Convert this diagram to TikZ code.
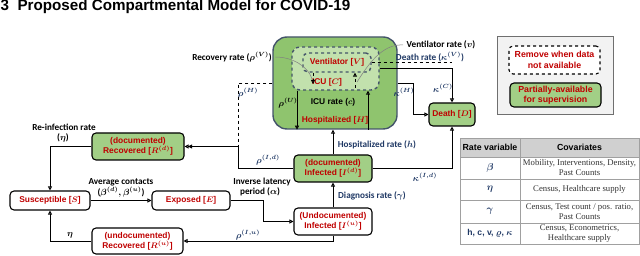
\documentclass[tikz,border=0pt]{standalone}
\usepackage{amsmath}
\usepackage{fontspec}
\setmainfont{Carlito}
\newfontfamily\arialfont{Liberation Sans}
\newfontfamily\timesfont{Liberation Serif}
\usetikzlibrary{arrows.meta,positioning,calc}
\definecolor{redc}{HTML}{C00000}
\definecolor{navyc}{HTML}{1F3864}
\definecolor{greenbox}{HTML}{A2CF86}
\definecolor{greenhosp}{HTML}{8FC46E}
\definecolor{greenicu}{HTML}{C2E1AD}
\definecolor{hospedge}{HTML}{44546A}
\definecolor{legendfill}{HTML}{F2F2F2}
\definecolor{legendedge}{HTML}{6F6F6F}
\definecolor{headgray}{HTML}{D0D0D0}
\definecolor{rulegray}{HTML}{A0A0A0}

\begin{document}
\begin{tikzpicture}[x=1pt,y=-1pt,
  every node/.style={font=\bfseries\boldmath\fontsize{9.2}{10}\selectfont},
  box/.style={draw,line width=1.1pt,rounded corners=4pt,align=center,inner sep=1pt,text=redc,
    font=\arialfont\bfseries\boldmath\fontsize{8.4}{10}\selectfont},
  docbox/.style={box,fill=greenbox},
  ratelbl/.style={text=navyc},
  covtext/.style={align=center,text=black!80,inner sep=0pt,font=\timesfont\fontsize{8.7}{10}\selectfont},
  flow/.style={line width=0.9pt,-{Triangle[open,length=4pt,width=4pt]}},
  pointer/.style={gray,line width=0.5pt}]
\useasboundingbox (0,0) rectangle (640,256);
\node[anchor=base west,inner sep=0pt,font=\arialfont\bfseries\fontsize{15.2}{18}\selectfont] (title) at (0.5,11) {3\hspace{0.55em}Proposed Compartmental Model for COVID-19};

\node[draw=hospedge,fill=greenhosp,line width=1.4pt,rounded corners=14pt,minimum width=124,minimum height=92] (hosp) at (335,83) {};
\node[draw=hospedge,fill=greenicu,line width=1.4pt,dashed,rounded corners=8pt,minimum width=87,minimum height=43] (icu) at (335.5,68.5) {};
\node[box,draw=hospedge,line width=1.4pt,dashed,rounded corners=5pt,fill=greenicu,minimum width=68,minimum height=19] (vent) at (337,62.5) {Ventilator [$V$]};
\node[text=redc,font=\arialfont\bfseries\boldmath\fontsize{8.4}{10}\selectfont] (icutxt) at (327,82) {ICU [$C$]};
\node[font=\arialfont\bfseries\boldmath\fontsize{8.4}{10}\selectfont] (icurate) at (333,102) {ICU rate ($c$)};
\node[text=redc,font=\arialfont\bfseries\boldmath\fontsize{8.4}{10}\selectfont] (hosptxt) at (335,120) {Hospitalized [$H$]};

\node[box,fill=white,minimum width=80,minimum height=19] (sus) at (50,200.5) {Susceptible [$S$]};
\node[box,fill=white,minimum width=78,minimum height=19] (exp) at (191,200.5) {Exposed [$E$]};
\node[docbox,minimum width=92,minimum height=27] (rdoc) at (138,146.5) {(documented)\\Recovered [$R^{(d)}$]};
\node[box,fill=white,minimum width=91,minimum height=26] (rund) at (137.5,241) {(undocumented)\\Recovered [$R^{(u)}$]};
\node[box,fill=white,minimum width=78,minimum height=27] (iund) at (333,221.5) {(Undocumented)\\Infected [$I^{(u)}$]};
\node[docbox,minimum width=78,minimum height=27] (idoc) at (333,168.5) {(documented)\\Infected [$I^{(d)}$]};
\node[docbox,minimum width=46,minimum height=23] (death) at (452,114.5) {Death [$D$]};

\node (reinf) at (64,127) {Re-infection rate};
\node (reinfeta) at (63,138) {($\eta$)};
\node (etau) at (70,235) {$\eta$};
\node (avgc) at (121,182) {Average contacts};
\node (avgb) at (121,192) {($\beta^{(d)}, \beta^{(u)}$)};
\node (invlat) at (262,182) {Inverse latency};
\node (invper) at (260,192) {period ($\alpha$)};
\node[ratelbl] (diag) at (372,196) {Diagnosis rate ($\gamma$)};
\node[ratelbl] (rhoiu) at (248,235) {$\rho^{(I,u)}$};
\node[ratelbl] (rhoid) at (268,160) {$\rho^{(I,d)}$};
\node[ratelbl] (rhoh) at (248,93) {$\rho^{(H)}$};
\node[ratelbl] (hrate) at (377,145) {Hospitalized rate ($h$)};
\node[ratelbl] (kid) at (425,177) {$\kappa^{(I,d)}$};
\node[ratelbl] (kh) at (404,92) {$\kappa^{(H)}$};
\node[ratelbl] (kc) at (443,88) {$\kappa^{(C)}$};
\node[ratelbl] (drate) at (430,57) {Death rate ($\kappa^{(V)}$)};
\node (rhou) at (288,103) {$\rho^{(U)}$};
\node (recov) at (232,57) {Recovery rate ($\rho^{(V)}$)};
\node (ventrate) at (441,45) {Ventilator rate ($v$)};

\coordinate (lat) at (263,200.5);
\coordinate (join) at (238,146.5);
\coordinate (vdown) at (313,84);
\coordinate (vupstart) at (355,88);
\coordinate (rvtip) at (312,79);
\coordinate (vutip) at (357,82);

\draw[flow] (sus) -- (exp);
\draw[flow] (exp.east) -- (lat) |- (iund.west);
\draw[flow] (iund.north) -- (idoc.south);
\draw[flow] (iund.south) |- (rund.east);
\draw[flow] (rund.west) -| (sus.south);
\draw[flow] (rdoc.west) -| (sus.north);
\draw[flow] (idoc.west) -| (join) -- (rdoc.east);
\draw[flow,dashed,shorten >=3.5pt] (hosp.west) -| (join) -- (rdoc.east);
\draw[flow] (idoc.north) -- (idoc.north |- hosp.south);
\draw[flow] (idoc.east) -| (death.south);
\draw[flow] (hosp.east) -- ++(16,0) |- (death.west);
\draw[flow] (icu.east) -| (death.north);
\draw[line width=0.9pt,dashed] (vent.east) -- (vent.east -| death.north);
\draw[flow] ([xshift=-38.5pt]icu.south) -- ([xshift=-38.5pt]icu.south |- hosp.south);
\draw[flow] ([xshift=32.5pt]icu.south |- hosp.south) -- ([xshift=32.5pt]icu.south);
\draw[flow,dashed] (vent.south -| vdown) -- (vdown);
\draw[flow,dashed] (vupstart) -- (vent.south -| vupstart);
\draw[pointer] (recov.east) .. controls (292,57) and (308,66) .. (rvtip);
\draw[pointer] (ventrate.west) .. controls (385,44) and (372,58) .. (vutip);

\node[draw=legendedge,fill=legendfill,line width=1pt,minimum width=116,minimum height=78] (legend) at (555,76) {};
\node[box,dashed,fill=white,minimum width=91,minimum height=28,font=\arialfont\bfseries\fontsize{8.8}{10.5}\selectfont] (legrem) at (554.5,60) {Remove when data\\not available};
\node[docbox,minimum width=91,minimum height=24,font=\arialfont\bfseries\fontsize{8.8}{10.5}\selectfont] (legsup) at (555.5,95) {Partially-available\\for supervision};

\fill[headgray] (460,138) rectangle (639,157);
\draw[rulegray,line width=0.8pt] (460,138) rectangle (639,244);
\foreach \yrow in {157,179,200,223}
  \draw[rulegray,line width=0.8pt] (460,\yrow) -- (639,\yrow);
\draw[rulegray,line width=0.8pt] (520,138) -- (520,244);
\node[font=\arialfont\bfseries\fontsize{8.8}{9}\selectfont] (hvar) at (490,147.5) {Rate variable};
\node[font=\arialfont\bfseries\fontsize{8.8}{9}\selectfont] (hcov) at (579.5,147.5) {Covariates};
\node[text=navyc,font=\boldmath\fontsize{10}{10}\selectfont] (vbeta) at (490,168) {$\boldsymbol{\beta}$};
\node[text=navyc,font=\boldmath\fontsize{10}{10}\selectfont] (veta) at (490,189.5) {$\boldsymbol{\eta}$};
\node[text=navyc,font=\boldmath\fontsize{10}{10}\selectfont] (vgamma) at (490,211.5) {$\boldsymbol{\gamma}$};
\node[text=navyc,font=\arialfont\bfseries\boldmath\fontsize{8.6}{9}\selectfont] (vrest) at (490,233.5) {h, c, v, $\varrho$, $\kappa$};
\node[covtext] (cbeta) at (579.5,168) {Mobility, Interventions, Density,\\Past Counts};
\node[covtext] (ceta) at (579.5,189.5) {Census, Healthcare supply};
\node[covtext] (cgamma) at (579.5,211.5) {Census, Test count / pos. ratio,\\Past Counts};
\node[covtext] (crest) at (579.5,233.5) {Census, Econometrics,\\Healthcare supply};
\end{tikzpicture}
\end{document}
